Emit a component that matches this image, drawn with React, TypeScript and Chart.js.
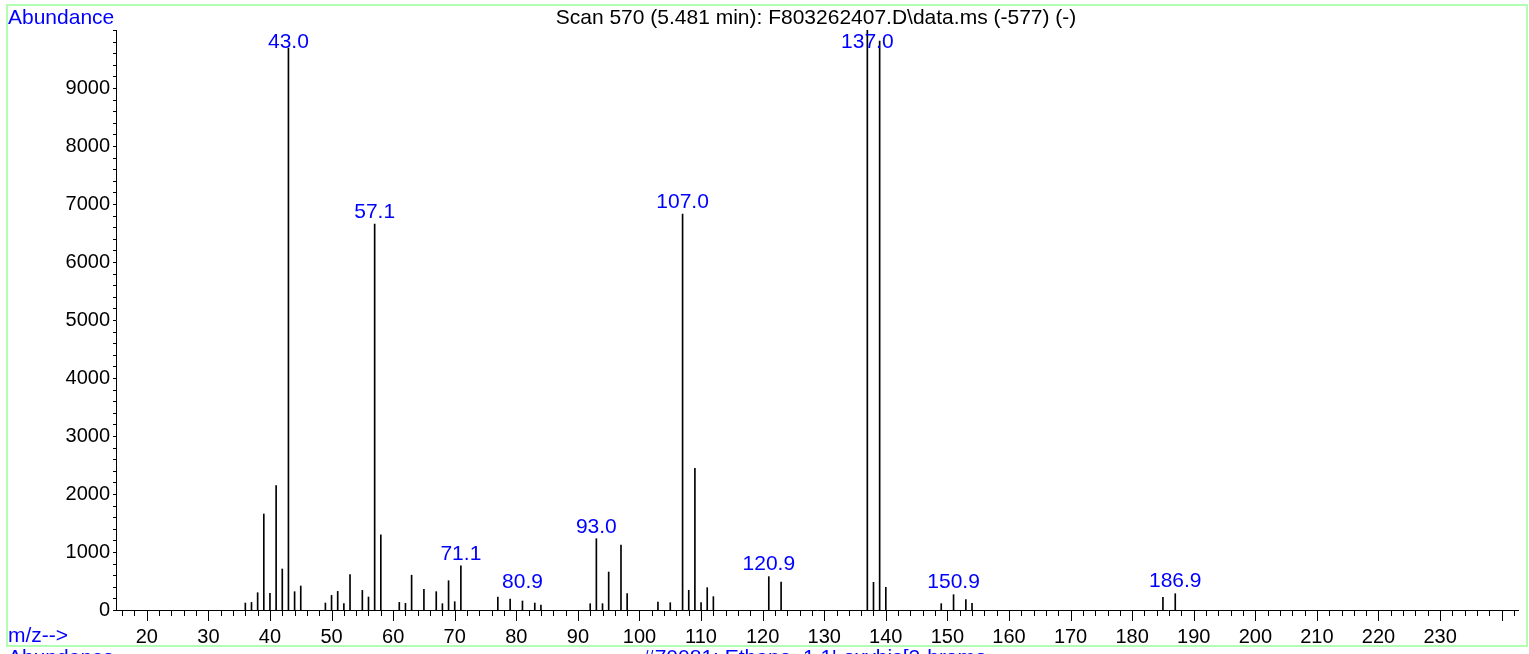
import React, { useEffect, useRef } from "react";
import { Chart, registerables } from "chart.js";

Chart.register(...registerables);

// m/z values of the spectrum peaks
const mzValues = [
  36, 37, 38, 39, 40, 41, 42, 43, 44, 45, 49, 50, 51, 52, 53, 55, 56, 57, 58,
  61, 62, 63, 65, 67, 68, 69, 70, 71, 77, 79, 81, 83, 84, 92, 93, 94, 95, 97,
  98, 103, 105, 107, 108, 109, 110, 111, 112, 121, 123, 137, 138, 139, 140,
  149, 151, 153, 154, 185, 187,
];

// abundance of each peak
const abundances = [
  120, 131, 298, 1655, 288, 2145, 707, 9690, 316, 414, 120, 252, 321, 109, 610,
  338, 224, 6655, 1295, 131, 114, 600, 357, 316, 109, 505, 143, 762, 222, 190,
  155, 120, 86, 109, 1229, 109, 655, 1121, 281, 138, 126, 6828, 340, 2443, 126,
  385, 230, 575, 483, 10000, 477, 9810, 391, 109, 264, 178, 114, 217, 281,
];

// labelled peaks
const peakLabelMz = [43, 57, 71, 81, 93, 107, 121, 137, 151, 187];
const peakLabelText = ["43.0", "57.1", "71.1", "80.9", "93.0", "107.0", "120.9", "137.0", "150.9", "186.9"];

// axis tick labels
const xTickLabels = [20, 30, 40, 50, 60, 70, 80, 90, 100, 110, 120, 130, 140, 150, 160, 170, 180, 190, 200, 210, 220, 230];
const yTickLabels = [0, 1000, 2000, 3000, 4000, 5000, 6000, 7000, 8000, 9000];

const titleText = "Scan 570 (5.481 min): F803262407.D\\data.ms (-577) (-)";
const yAxisTitle = "Abundance";
const xAxisTitle = "m/z-->";
const nextPanelTitle = "#70081: Ethane, 1,1'-oxybis[2-bromo-";

const FONT = '"Liberation Sans", Arial, sans-serif';
const BLUE = "#0000ff";

const decorPlugin = {
  id: "decor",
  beforeDraw(chart: any) {
    const { ctx, width, height } = chart;
    ctx.save();
    ctx.fillStyle = "#fff";
    ctx.fillRect(0, 0, width, height);
    ctx.strokeStyle = "#99ff99";
    ctx.lineWidth = 1.5;
    ctx.strokeRect(7, 5, 1520, 641);
    ctx.restore();
  },
  afterDraw(chart: any) {
    const { ctx } = chart;
    const x = chart.scales.x;
    const y = chart.scales.y;
    const area = chart.chartArea;
    ctx.save();
    ctx.strokeStyle = "#000";
    ctx.lineWidth = 1;
    // x ticks
    for (let v = 16; v <= 242; v += 2) {
      const px = Math.round(x.getPixelForValue(v)) + 0.5;
      const len = v % 10 === 0 ? 11 : 6;
      ctx.beginPath();
      ctx.moveTo(px, area.bottom);
      ctx.lineTo(px, area.bottom + len);
      ctx.stroke();
    }
    // y ticks
    for (let v = 0; v <= 10000; v += 200) {
      const py = Math.round(y.getPixelForValue(v)) + 0.5;
      ctx.beginPath();
      ctx.moveTo(area.left - 3, py);
      ctx.lineTo(area.left, py);
      ctx.stroke();
    }
    // peak labels
    ctx.font = `21px ${FONT}`;
    ctx.fillStyle = BLUE;
    ctx.textAlign = "center";
    ctx.textBaseline = "middle";
    peakLabelMz.forEach((mz, i) => {
      const idx = mzValues.indexOf(mz);
      const top = y.getPixelForValue(abundances[idx]);
      const cy = Math.max(42, Math.min(582, top - 12));
      ctx.fillText(peakLabelText[i], x.getPixelForValue(mz), cy);
    });
    // titles
    ctx.font = `21px ${FONT}`;
    ctx.fillStyle = "#000";
    ctx.fillText(titleText, 816, 18);
    ctx.fillStyle = BLUE;
    ctx.textAlign = "left";
    ctx.fillText(yAxisTitle, 8, 18);
    ctx.fillText(xAxisTitle, 8, 636);
    ctx.textBaseline = "top";
    ctx.fillText(yAxisTitle, 8, 648);
    ctx.fillText(nextPanelTitle, 643, 648);
    ctx.restore();
  },
};

export default function App() {
  const ref = useRef<HTMLCanvasElement | null>(null);
  useEffect(() => {
    if (!ref.current) return;
    const chart = new Chart(ref.current, {
      type: "bar",
      data: {
        datasets: [
          {
            data: mzValues.map((m, i) => ({ x: m, y: abundances[i] })),
            backgroundColor: "#000",
            borderWidth: 0,
            barThickness: 1,
          } as any,
        ],
      },
      options: {
        animation: false,
        responsive: false,
        events: [],
        layout: { padding: { left: 8, top: 30, right: 9, bottom: 0 } },
        plugins: { legend: { display: false }, tooltip: { enabled: false } },
        scales: {
          x: {
            type: "linear",
            min: 15,
            max: 242.8,
            offset: false,
            grid: { display: false, drawTicks: false },
            border: { display: true, color: "#000", width: 1 },
            afterBuildTicks: (scale: any) => {
              const t = [];
              for (let v = 16; v <= 242; v += 2) t.push({ value: v });
              scale.ticks = t;
            },
            afterFit: (scale: any) => {
              scale.height = 44;
            },
            ticks: {
              autoSkip: false,
              maxRotation: 0,
              minRotation: 0,
              padding: 15,
              color: "#000",
              font: { family: FONT, size: 20 },
              callback: (value: any) => (xTickLabels.includes(value) ? String(value) : ""),
            },
          },
          y: {
            type: "linear",
            min: 0,
            max: 10000,
            grid: { display: false, drawTicks: false },
            border: { display: true, color: "#000", width: 1 },
            afterBuildTicks: (scale: any) => {
              const t = [];
              for (let v = 0; v <= 10000; v += 200) t.push({ value: v });
              scale.ticks = t;
            },
            afterFit: (scale: any) => {
              scale.width = 108;
            },
            ticks: {
              autoSkip: false,
              padding: 6,
              color: "#000",
              font: { family: FONT, size: 20 },
              callback: (value: any) => (yTickLabels.includes(value) ? String(value) : ""),
            },
          },
        },
      } as any,
      plugins: [decorPlugin],
    });
    return () => chart.destroy();
  }, []);
  return (
    <div style={{ position: "absolute", left: 0, top: 0, width: 1529, height: 654, overflow: "hidden" }}>
      <canvas ref={ref} width={1529} height={654} />
    </div>
  );
}
